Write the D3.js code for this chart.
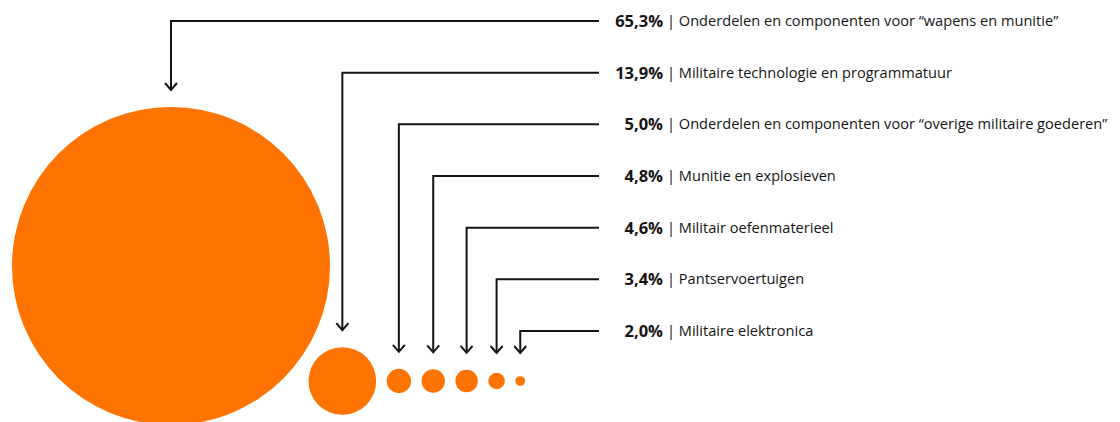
<!DOCTYPE html>
<html>
<head>
<meta charset="utf-8">
<script src="https://cdn.jsdelivr.net/npm/d3@7"></script>
<style>
  html, body { margin: 0; padding: 0; background: #fff; }
  svg { display: block; }
</style>
</head>
<body>
<svg id="chart" width="1120" height="422"></svg>
<script>
const categories = [
  "Onderdelen en componenten voor “wapens en munitie”",
  "Militaire technologie en programmatuur",
  "Onderdelen en componenten voor “overige militaire goederen”",
  "Munitie en explosieven",
  "Militair oefenmaterieel",
  "Pantservoertuigen",
  "Militaire elektronica"
];
const values = [65.3, 13.9, 5.0, 4.8, 4.6, 3.4, 2.0];
const valueLabels = ["65,3%", "13,9%", "5,0%", "4,8%", "4,6%", "3,4%", "2,0%"];

const width = 1120, height = 422;
const orange = "#ff7300", ink = "#141414";
const svg = d3.select("#chart");

// radius grows linearly with the share
const r = d3.scaleLinear().domain([0, d3.max(values)]).range([0, 159]);
// label rows
const rowY = d3.scalePoint().domain(categories).range([21, 331]);

// layout: big circle on its own, the rest packed in a row with a small gap
const nodes = categories.map((c, i) => ({ name: c, value: values[i], label: valueLabels[i], r: r(values[i]) }));
nodes[0].cx = 12 + nodes[0].r;
nodes[0].cy = 107 + nodes[0].r;
let cursor = 308.5;
for (let i = 1; i < nodes.length; i++) {
  nodes[i].cx = cursor + nodes[i].r;
  nodes[i].cy = 381;
  cursor += nodes[i].r * 2 + 10.5;
}
nodes.forEach(d => {
  d.y = rowY(d.name);
  d.tip = Math.min(d.cy - d.r - 17, 353);
});

svg.selectAll("circle.bubble")
  .data(nodes)
  .join("circle")
  .attr("class", "bubble")
  .attr("cx", d => d.cx)
  .attr("cy", d => d.cy)
  .attr("r", d => d.r)
  .attr("fill", orange);

const lineEnd = 599;
const connectors = svg.append("g")
  .attr("fill", "none")
  .attr("stroke", ink)
  .attr("stroke-width", 2);

connectors.selectAll("path.lead")
  .data(nodes)
  .join("path")
  .attr("class", "lead")
  .attr("d", d => `M${lineEnd},${d.y}H${d.cx}V${d.tip}`);

connectors.selectAll("path.head")
  .data(nodes)
  .join("path")
  .attr("class", "head")
  .attr("d", d => `M${d.cx - 6},${d.tip - 7}L${d.cx},${d.tip}L${d.cx + 6},${d.tip - 7}`);

const labels = svg.append("g")
  .attr("font-family", "'Open Sans', 'Noto Sans', sans-serif")
  .attr("fill", ink);

labels.selectAll("text.pct")
  .data(nodes)
  .join("text")
  .attr("class", "pct")
  .attr("x", 663)
  .attr("y", d => d.y + 6)
  .attr("text-anchor", "end")
  .attr("font-size", 16.5)
  .attr("font-weight", 700)
  .text(d => d.label);

labels.selectAll("text.name")
  .data(nodes)
  .join("text")
  .attr("class", "name")
  .attr("x", 667)
  .attr("y", d => d.y + 5)
  .attr("font-size", 14.6)
  .text(d => "| " + d.name);
</script>
</body>
</html>
